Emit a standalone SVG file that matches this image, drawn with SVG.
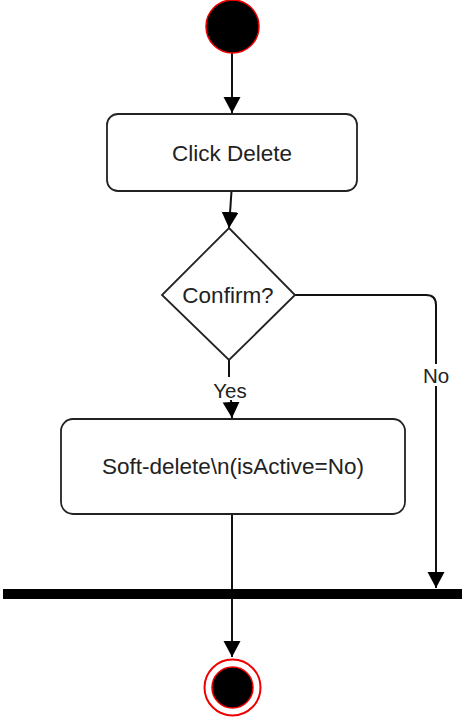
<svg xmlns="http://www.w3.org/2000/svg" width="463" height="719" viewBox="0 0 463 719">
<style>
.node{fill:#fff;stroke:#222;stroke-width:1.8}
.lbl{font-family:"Liberation Sans",Arial,sans-serif;font-size:22.5px;fill:#222;text-anchor:middle;dominant-baseline:central}
.elbl{font-family:"Liberation Sans",Arial,sans-serif;font-size:20.5px;fill:#222;text-anchor:middle;dominant-baseline:central}
.edge{fill:none;stroke:#111;stroke-width:2}
</style>
<defs>
<marker id="arr" markerUnits="userSpaceOnUse" markerWidth="18" markerHeight="18" refX="16" refY="8.5" orient="auto" viewBox="0 0 18 18">
<path d="M0,0 L16,8.5 L0,17 z" fill="#000"/>
</marker>
</defs>
<rect width="463" height="719" fill="#fff"/>
<g id="connectors">
<line class="edge" x1="232" y1="53" x2="232" y2="113" marker-end="url(#arr)"/>
<line class="edge" x1="231.5" y1="191" x2="229" y2="228" marker-end="url(#arr)"/>
<path class="edge" d="M229,360 L229,377"/>
<path class="edge" d="M231,400 L232,418" marker-end="url(#arr)"/>
<path class="edge" d="M295,295 L426,295 Q436,295 436,305 L436,364"/>
<path class="edge" d="M436,386 L436,588" marker-end="url(#arr)"/>
<line class="edge" x1="232" y1="514" x2="232" y2="590"/>
<line class="edge" x1="232" y1="598" x2="232" y2="657" marker-end="url(#arr)"/>
<text class="elbl" x="230" y="390">Yes</text>
<text class="elbl" x="436" y="375">No</text>
</g>
<g id="start">
<circle cx="232.5" cy="26.5" r="26.5" fill="#000" stroke="#e00" stroke-width="1.5"/>
</g>
<g id="click-delete">
<rect class="node" x="107" y="114" width="250" height="77" rx="11"/>
<text class="lbl" x="232" y="153">Click Delete</text>
</g>
<g id="confirm">
<polygon class="node" points="229,228 295,295 229,360 162,295"/>
<text class="lbl" x="228" y="295">Confirm?</text>
</g>
<g id="soft-delete">
<rect class="node" x="61" y="419" width="344" height="95" rx="12"/>
<text class="lbl" x="233" y="466">Soft-delete\n(isActive=No)</text>
</g>
<g id="join-bar">
<rect x="3" y="589" width="459" height="10" fill="#000"/>
</g>
<g id="end">
<circle cx="232.5" cy="687.5" r="28" fill="none" stroke="#e00" stroke-width="2"/>
<circle cx="232.5" cy="687.5" r="20.5" fill="#000" stroke="#e00" stroke-width="1.5"/>
</g>
</svg>
